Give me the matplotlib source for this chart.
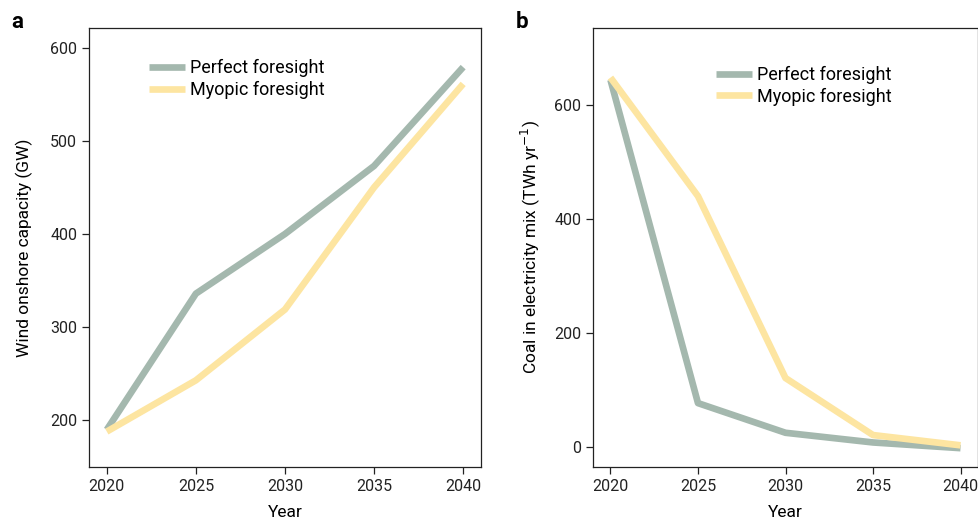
import matplotlib
matplotlib.use("Agg")
import matplotlib.pyplot as plt

plt.rcParams['font.family'] = ['Roboto', 'DejaVu Sans']

years = [2020, 2025, 2030, 2035, 2040]

wind_perfect = [190, 336, 400, 473, 579]
wind_myopic = [188, 243, 319, 450, 561]

coal_perfect = [644, 77, 25, 8, -2]
coal_myopic = [648, 440, 121, 21, 3]

perfect_color = '#a4b8ae'
myopic_color = '#fde5a1'
lw = 4.8


def style_axis(ax):
    for s in ax.spines.values():
        s.set_linewidth(0.9)
        s.set_color('#222222')
    ax.tick_params(direction='out', length=5, width=0.9, labelsize=11.5, colors='#222222')
    ax.set_xticks(years)
    ax.set_xlim(2019, 2041)
    ax.set_xlabel('Year', fontsize=12.5, labelpad=8)


def main():
    fig = plt.figure(figsize=(9.79, 5.26), dpi=100)

    ax1 = fig.add_axes([0.0909, 0.1122, 0.4004, 0.8346])
    ax1.plot(years, wind_perfect, color=perfect_color, lw=lw, label='Perfect foresight', solid_capstyle='butt')
    ax1.plot(years, wind_myopic, color=myopic_color, lw=lw, label='Myopic foresight', solid_capstyle='butt')
    style_axis(ax1)
    ax1.set_ylim(150, 621)
    ax1.set_yticks([200, 300, 400, 500, 600])
    ax1.set_ylabel('Wind onshore capacity (GW)', fontsize=12.5, labelpad=12)
    ax1.legend(loc='upper left', bbox_to_anchor=(0.135, 0.945), frameon=False, fontsize=13,
               handlelength=2.0, handletextpad=0.25, labelspacing=0.2, borderaxespad=0)

    ax2 = fig.add_axes([0.6057, 0.1122, 0.3933, 0.8346])
    ax2.plot(years, coal_perfect, color=perfect_color, lw=lw, label='Perfect foresight', solid_capstyle='butt')
    ax2.plot(years, coal_myopic, color=myopic_color, lw=lw, label='Myopic foresight', solid_capstyle='butt')
    style_axis(ax2)
    ax2.set_ylim(-35, 735)
    ax2.set_yticks([0, 200, 400, 600])
    ax2.set_ylabel('Coal in electricity mix (TWh yr$^{-1}$)', fontsize=12.5, labelpad=9)
    ax2.legend(loc='upper left', bbox_to_anchor=(0.301, 0.93), frameon=False, fontsize=13,
               handlelength=2.0, handletextpad=0.25, labelspacing=0.2, borderaxespad=0)

    fig.text(0.012, 0.958, 'a', fontsize=16, fontweight='bold', va='center')
    fig.text(0.527, 0.958, 'b', fontsize=16, fontweight='bold', va='center')

    fig.savefig('out.png', dpi=100)


if __name__ == "__main__":
    main()
